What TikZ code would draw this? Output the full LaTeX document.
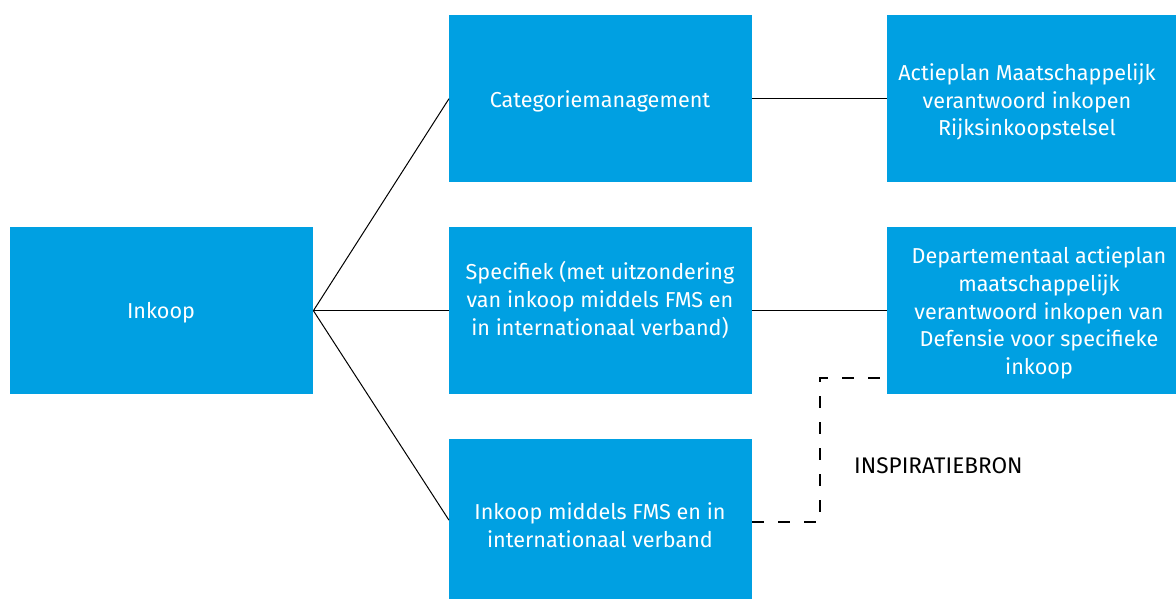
\documentclass[tikz,border=0pt]{standalone}
\usepackage{fontspec}
\setmainfont{Fira Sans}
\definecolor{rblue}{RGB}{0,160,226}
\begin{document}
\begin{tikzpicture}[x=1pt,y=-1pt,
  box/.style={draw=none,fill=rblue,minimum width=#1,minimum height=167pt,inner sep=0pt,anchor=north west},
  box/.default=303pt,
  lbl/.style={text=white,align=center,font=\fontsize{21.6}{27.8}\selectfont},
  conn/.style={draw=black,line width=1pt},
  dconn/.style={draw=black,line width=1.2pt,dash pattern=on 12pt off 14pt}]
\useasboundingbox (0,0) rectangle (1176,599);
% boxes
\node[box] (ink) at (10,227) {};
\node[box] (cat) at (449,15) {};
\node[box] (spec) at (449,227) {};
\node[box,minimum height=162pt] (fms) at (449,439) {};
\node[box=300pt] (act) at (887,15) {};
\node[box=300pt] (dep) at (887,227) {};
% texts
\node[lbl] (tink) at (161,313) {Inkoop};
\node[lbl] (tcat) at (600,101) {Categoriemanagement};
\node[lbl] (tspec) at (600,300) {Specifiek (met uitzondering\\van inkoop middels FMS en\\in internationaal verband)};
\node[lbl] (tfms) at (600,525) {Inkoop middels FMS en in\\internationaal verband};
\node[lbl] (tact) at (1027,102) {Actieplan Maatschappelijk\\verantwoord inkopen\\Rijksinkoopstelsel};
\node[lbl] (tdep) at (1039,313) {Departementaal actieplan\\maatschappelijk\\verantwoord inkopen van\\Defensie voor specifieke\\inkoop};
\node[text=black,font=\fontsize{22.6}{27.8}\selectfont,anchor=base west,inner sep=0pt] (insp) at (854,473) {INSPIRATIEBRON};
% connectors
\draw[conn] (ink.east) -- (cat.west);
\draw[conn] (ink.east) -- (spec.west);
\draw[conn] (ink.east) -- (fms.west);
\draw[conn] (cat.east) -- (act.west |- cat.east);
\draw[conn] (spec.east) -- (dep.west |- spec.east);
\coordinate (d1) at (820,522);
\coordinate (d2) at (820,378);
\draw[dconn] (fms.east |- d1) -- (d1) -- (d2) -- (dep.west |- d2);
\end{tikzpicture}
\end{document}
